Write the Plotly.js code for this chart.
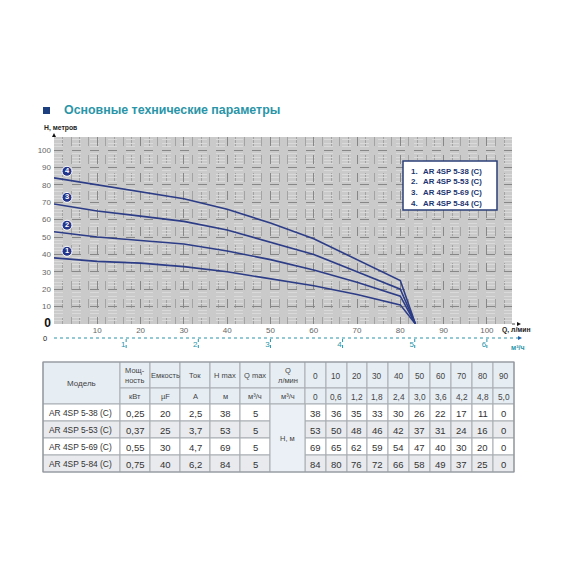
<!DOCTYPE html>
<html>
<head>
<meta charset="utf-8">
<script src="https://cdn.plot.ly/plotly-3.0.1.min.js"></script>
<style>html,body{margin:0;padding:0;background:#fff;}#chart{width:570px;height:570px;}</style>
</head>
<body>
<div id="chart"></div>
<script>
// ---- data ----
const models = ['AR 4SP 5-38 (C)', 'AR 4SP 5-53 (C)', 'AR 4SP 5-69 (C)', 'AR 4SP 5-84 (C)'];
const powerKW = [0.25, 0.37, 0.55, 0.75];
const capacityUF = [20, 25, 30, 40];
const currentA = [2.5, 3.7, 4.7, 6.2];
const hMax = [38, 53, 69, 84];
const qMax = [5, 5, 5, 5];
const flowLpm = [0, 10, 20, 30, 40, 50, 60, 70, 80, 90];
const flowM3h = [0, 0.6, 1.2, 1.8, 2.4, 3.0, 3.6, 4.2, 4.8, 5.0];
const head38 = [38, 36, 35, 33, 30, 26, 22, 17, 11, 0];
const head53 = [53, 50, 48, 46, 42, 37, 31, 24, 16, 0];
const head69 = [69, 65, 62, 59, 54, 47, 40, 30, 20, 0];
const head84 = [84, 80, 76, 72, 66, 58, 49, 37, 25, 0];
const curveEndQ = 83.5; // where curves reach 0 on the chart (l/min)
const m3hTicks = [1, 2, 3, 4, 5, 6];
const yTicks = [0, 10, 20, 30, 40, 50, 60, 70, 80, 90, 100];
const xTicks = [10, 20, 30, 40, 50, 60, 70, 80, 90, 100];

const heads = [head38, head53, head69, head84];

// ---- layout helpers (pixel -> paper) ----
const W = 570;
const X = p => p / W;
const Y = p => 1 - p / W;
const NAVY = '#2c3c86';
const TEAL = '#2a95a8';
const NARROW = '"Liberation Sans Narrow", "Arial Narrow", "Liberation Sans", Arial, sans-serif';
const SANS = '"Liberation Sans", Arial, sans-serif';

const plotL = 54, plotR = 512, plotT = 137, plotB = 324;
const xMax = 105.8, yMax = 107.5;
const lpmPerM3h = 1000 / 60;

const fmt = (v, d) => (v === 0 ? '0' : v.toFixed(d).replace('.', ','));

// ---- traces ----
const traces = heads.map((h, i) => ({
  x: flowLpm.slice(0, 9).concat([curveEndQ]),
  y: h,
  type: 'scatter', mode: 'lines',
  line: {color: NAVY, width: 1.6},
  hoverinfo: 'skip', showlegend: false
}));
traces.push({
  x: heads.map(() => 3),
  y: heads.map(h => h[0] + 3.8),
  type: 'scatter', mode: 'markers+text',
  text: heads.map((h, i) => '<b>' + (i + 1) + '</b>'),
  textposition: 'middle center',
  textfont: {color: '#fff', size: 7.5, family: SANS},
  marker: {size: 10, color: '#24358a', line: {color: '#ffffff', width: 1}},
  cliponaxis: false, showlegend: false, hoverinfo: 'skip'
});
traces.push({x: [0], y: [0], xaxis: 'x2', yaxis: 'y', mode: 'markers', marker: {opacity: 0}, showlegend: false, hoverinfo: 'skip'});

const shapes = [];
const annotations = [];

// title
shapes.push({type: 'rect', xref: 'paper', yref: 'paper', x0: X(43), x1: X(50), y0: Y(114), y1: Y(107), fillcolor: '#1d3f80', line: {width: 0}});
annotations.push({xref: 'paper', yref: 'paper', x: X(62), y: Y(110), xanchor: 'left', yanchor: 'middle', showarrow: false,
  text: '<b>Основные технические параметры</b>', font: {family: SANS, size: 12.4, color: TEAL}});
annotations.push({xref: 'paper', yref: 'paper', x: X(42), y: Y(128), xanchor: 'left', yanchor: 'middle', showarrow: false,
  text: '<b>H, метров</b>', font: {family: SANS, size: 6.8, color: '#222'}});
annotations.push({xref: 'paper', yref: 'paper', x: X(500), y: Y(330), xanchor: 'left', yanchor: 'middle', showarrow: false,
  text: '<b>Q, л/мин</b>', font: {family: SANS, size: 6.8, color: '#222'}});
annotations.push({xref: 'paper', yref: 'paper', x: X(509), y: Y(347), xanchor: 'left', yanchor: 'middle', showarrow: false,
  text: '<b>м³/ч</b>', font: {family: SANS, size: 7, color: TEAL}});
annotations.push({xref: 'paper', yref: 'paper', x: X(49), y: Y(338), xanchor: 'right', yanchor: 'middle', showarrow: false,
  text: '0', font: {family: SANS, size: 7.5, color: '#222'}});

// arrows
const tri = (x, y, dir) => {
  let p;
  if (dir === 'up') p = [[x, y - 4], [x - 2, y], [x + 2, y]];
  else p = [[x + 4, y], [x, y - 2], [x, y + 2]];
  return {type: 'path', xref: 'paper', yref: 'paper',
    path: 'M' + p.map(q => X(q[0]) + ',' + Y(q[1])).join(' L') + ' Z', fillcolor: '#111', line: {width: 0}};
};
shapes.push(tri(plotL, plotT, 'up'));
shapes.push({type: 'line', xref: 'paper', yref: 'paper', x0: X(plotR), x1: X(517), y0: Y(plotB), y1: Y(plotB), line: {color: '#444', width: 1, dash: 'dot'}});
shapes.push(tri(517, plotB, 'right'));
shapes.push({type: 'line', xref: 'paper', yref: 'paper', x0: X(plotL), x1: X(518), y0: Y(338), y1: Y(338), line: {color: TEAL, width: 1, dash: 'dot'}});
shapes.push(Object.assign(tri(518, 338, 'right'), {fillcolor: '#1d5fa8'}));
m3hTicks.forEach(t => {
  shapes.push({type: 'line', xref: 'x2', yref: 'paper', x0: t, x1: t, y0: Y(339), y1: Y(348), line: {color: TEAL, width: 1, dash: 'dot'}});
});

// legend box
shapes.push({type: 'rect', xref: 'paper', yref: 'paper', x0: X(403), x1: X(497), y0: Y(210), y1: Y(161), fillcolor: '#fff', line: {color: '#2a3f78', width: 1.5}});
models.forEach((m, i) => {
  const yy = Y(171 + 10.7 * i);
  annotations.push({xref: 'paper', yref: 'paper', x: X(409), y: yy, xanchor: 'left', yanchor: 'middle', showarrow: false,
    text: '<b>' + (i + 1) + '.</b>', font: {family: NARROW, size: 8, color: '#1d3570'}});
  annotations.push({xref: 'paper', yref: 'paper', x: X(421), y: yy, xanchor: 'left', yanchor: 'middle', showarrow: false,
    text: '<b>' + m + '</b>', font: {family: NARROW, size: 7.8, color: '#1d3570'}});
});

// ---- table ----
const colX = [43, 120, 150, 180, 210, 240, 270, 305, 326, 347, 367, 388, 409, 430, 451, 472, 493, 514];
const rowY = [362, 388, 404, 421, 438, 455, 472];
const HDR = '#e6edf3', ALT = '#e8eaed', BORDER = '#a8adb2';
const HS = 7.5, DS = 9.5;
const cell = (c0, c1, r0, r1, fill, text, opts) => {
  opts = opts || {};
  shapes.push({type: 'rect', xref: 'paper', yref: 'paper', x0: X(colX[c0]), x1: X(colX[c1]), y0: Y(rowY[r1]), y1: Y(rowY[r0]),
    fillcolor: fill, line: {color: BORDER, width: 1}, layer: 'above'});
  if (text !== '') {
    const left = opts.align === 'left';
    annotations.push({xref: 'paper', yref: 'paper',
      x: left ? X(colX[c0] + 4) : X((colX[c0] + colX[c1]) / 2),
      y: Y((rowY[r0] + rowY[r1]) / 2 + 0.5),
      xanchor: left ? 'left' : 'center', yanchor: 'middle', showarrow: false,
      text: text, font: {family: NARROW, size: opts.size || DS, color: opts.color || '#333'}});
  }
};
const hdr1 = ['Мощ-<br>ность', 'Емкость', 'Ток', 'H max', 'Q max', 'Q<br>л/мин'];
const hdr2 = ['кВт', 'µF', 'A', 'м', 'м³/ч', 'м³/ч'];
const hopt = {size: HS, color: '#444'};
cell(0, 1, 0, 2, HDR, 'Модель', {size: 8, color: '#444'});
hdr1.forEach((t, j) => cell(j + 1, j + 2, 0, 1, HDR, t, hopt));
hdr2.forEach((t, j) => cell(j + 1, j + 2, 1, 2, HDR, t, hopt));
flowLpm.forEach((q, j) => cell(j + 7, j + 8, 0, 1, HDR, String(q), {size: 8.3, color: '#444'}));
flowM3h.forEach((q, j) => cell(j + 7, j + 8, 1, 2, HDR, fmt(q, 1), {size: 8.3, color: '#444'}));
models.forEach((m, i) => {
  const fill = i % 2 === 1 ? ALT : '#ffffff';
  const r = i + 2;
  cell(0, 1, r, r + 1, fill, m, {align: 'left', size: 8.4});
  cell(1, 2, r, r + 1, fill, fmt(powerKW[i], 2));
  cell(2, 3, r, r + 1, fill, String(capacityUF[i]));
  cell(3, 4, r, r + 1, fill, fmt(currentA[i], 1));
  cell(4, 5, r, r + 1, fill, String(hMax[i]));
  cell(5, 6, r, r + 1, fill, String(qMax[i]));
  heads[i].forEach((h, j) => cell(j + 7, j + 8, r, r + 1, fill, String(h)));
});
cell(6, 7, 2, 6, '#eaf0f5', 'H, м', hopt);
shapes.push({type: 'rect', xref: 'paper', yref: 'paper', x0: X(colX[0]), x1: X(colX[colX.length - 1]), y0: Y(rowY[6]), y1: Y(rowY[0]),
  line: {color: '#8f959b', width: 1.2}, layer: 'above'});

// ---- layout ----
const layout = {
  width: 570, height: 570,
  margin: {l: 0, r: 0, t: 0, b: 0},
  paper_bgcolor: '#ffffff',
  plot_bgcolor: '#cacaca',
  showlegend: false,
  xaxis: {
    domain: [X(plotL), X(plotR)], range: [0, xMax],
    tickmode: 'array', tickvals: xTicks, ticks: '',
    tickfont: {family: NARROW, size: 8, color: '#666'},
    showgrid: true, gridcolor: '#878787', griddash: 'dash', gridwidth: 1,
    minor: {tickmode: 'linear', tick0: 0, dtick: 2, showgrid: true, gridcolor: '#a3a3a3', gridwidth: 1},
    zeroline: false, showline: false, fixedrange: true
  },
  xaxis2: {
    overlaying: 'x', anchor: 'free', position: Y(338), side: 'bottom',
    range: [0, xMax / lpmPerM3h],
    tickmode: 'array', tickvals: m3hTicks, ticks: '', ticklabelshift: -3,
    tickfont: {family: NARROW, size: 8, color: TEAL},
    showgrid: false, zeroline: false, showline: false, fixedrange: true
  },
  yaxis: {
    domain: [Y(plotB), Y(plotT)], range: [0, yMax],
    tickmode: 'array', tickvals: yTicks,
    ticktext: yTicks.map(v => v === 0 ? '<span style="font-size:12px;color:#111"><b>0</b></span>' : String(v)),
    ticks: '', ticklabelstandoff: 2,
    tickfont: {family: NARROW, size: 8, color: '#666'},
    showgrid: true, gridcolor: '#878787', griddash: 'dash', gridwidth: 1,
    minor: {tickmode: 'linear', tick0: 0, dtick: 2, showgrid: true, gridcolor: '#dadada', gridwidth: 1},
    zeroline: false, showline: false, fixedrange: true
  },
  shapes: shapes,
  annotations: annotations
};

Plotly.newPlot('chart', traces, layout, {staticPlot: true, displayModeBar: false});
</script>
</body>
</html>
